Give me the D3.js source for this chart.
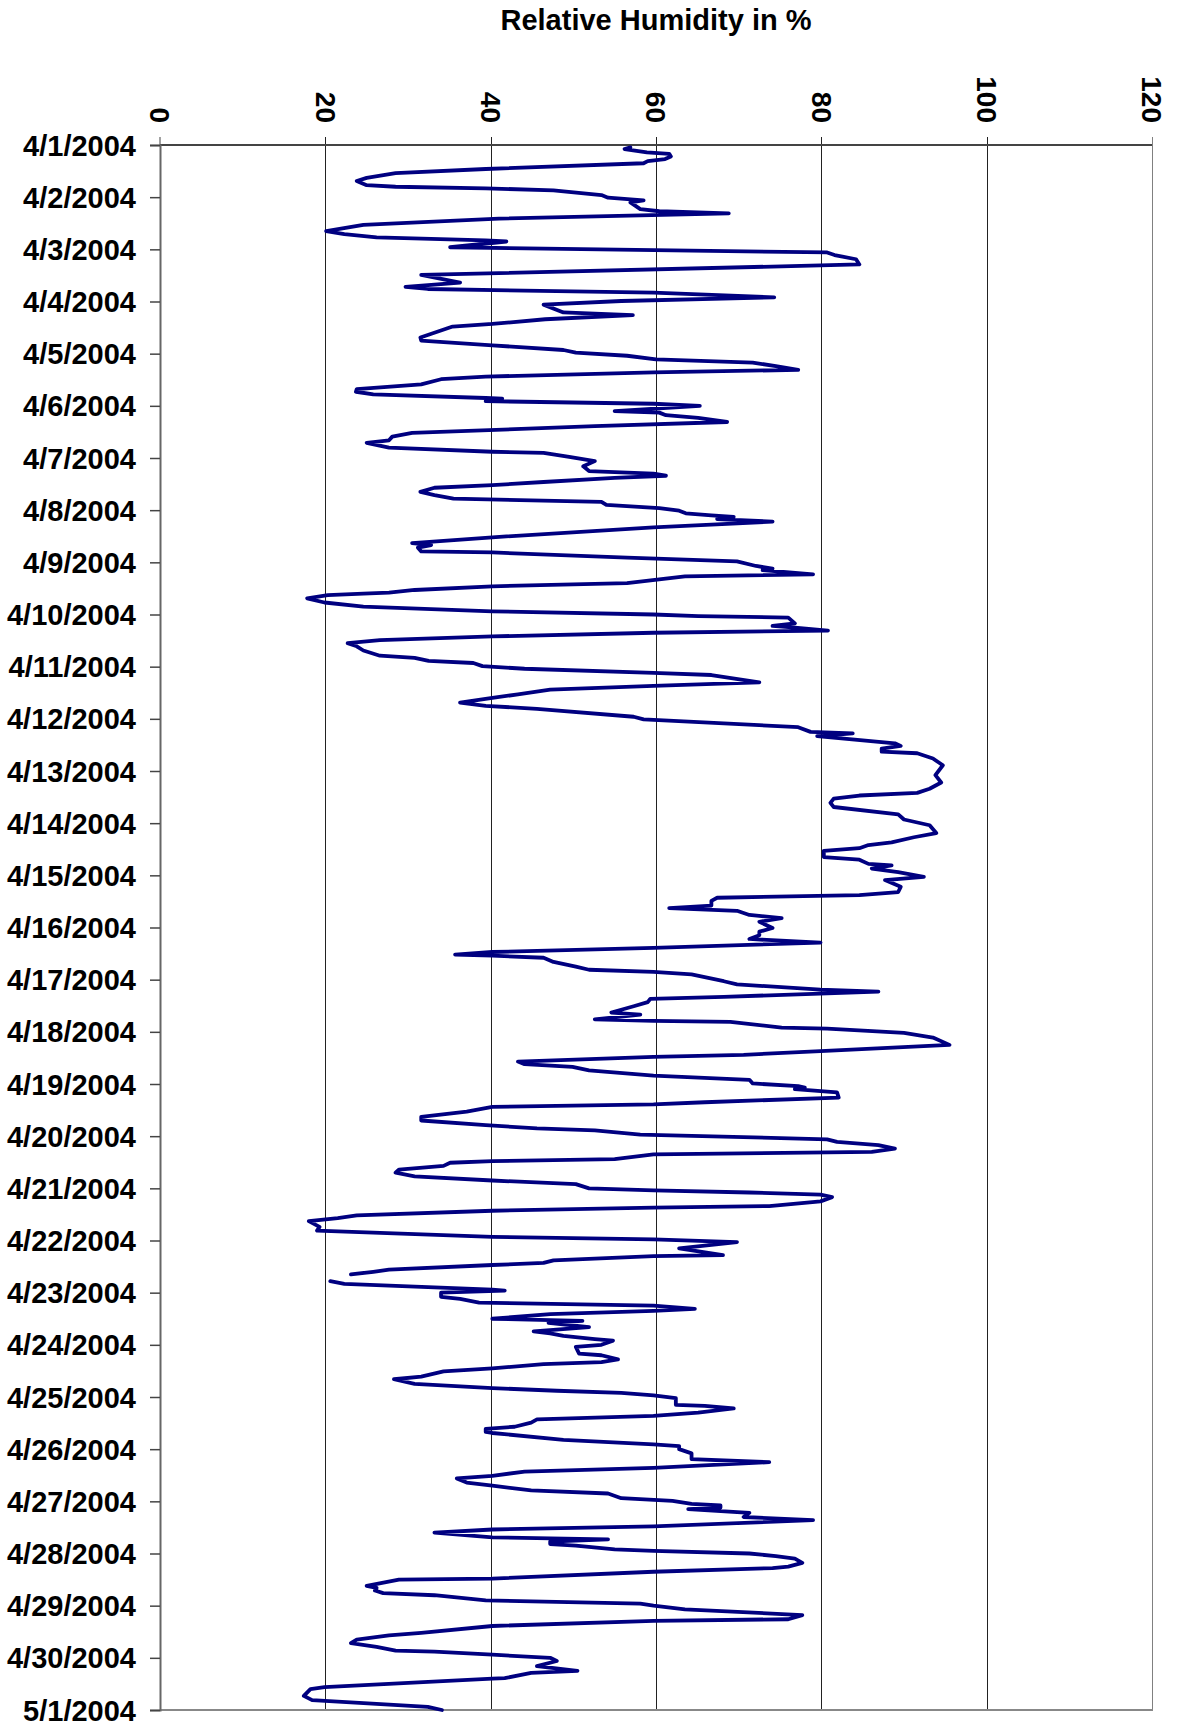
<!DOCTYPE html>
<html>
<head>
<meta charset="utf-8">
<script src="https://cdn.jsdelivr.net/npm/d3@7"></script>
<style>
  html, body { margin: 0; padding: 0; background: #fff; }
  svg { display: block; font-family: "Liberation Sans", Arial, sans-serif; }
</style>
</head>
<body>
<svg id="chart" width="1181" height="1726"></svg>
<script>
// ---- data (days after 4/1/2004 00:00, relative humidity %) ----
const dayOffset = [
  0.045,0.077,0.14,0.17,0.22,0.27,0.31,0.35,0.46,0.54,0.63,0.69,0.77,0.80,0.83,0.87,0.96,1.01,1.06,1.10,
  1.23,1.27,1.31,1.41,1.53,1.65,1.71,1.77,1.83,1.85,1.96,2.06,2.11,2.19,2.29,2.49,2.64,2.72,2.76,2.83,
  2.92,2.99,3.06,3.21,3.26,3.34,3.43,3.48,3.69,3.75,3.84,3.93,3.98,4.04,4.11,4.17,4.24,4.31,4.36,4.44,
  4.49,4.59,4.68,4.73,4.78,4.85,4.86,4.91,4.96,5.00,5.10,5.13,5.18,5.23,5.31,5.39,5.52,5.59,5.66,5.71,
  5.80,5.88,5.90,5.98,6.06,6.16,6.25,6.30,6.34,6.38,6.46,6.52,6.57,6.65,6.71,6.78,6.84,6.90,6.96,7.01,
  7.06,7.10,7.13,7.17,7.22,7.33,7.52,7.63,7.67,7.72,7.79,7.81,7.91,7.98,8.07,8.12,8.15,8.23,8.27,8.40,
  8.46,8.53,8.58,8.60,8.63,8.69,8.77,8.85,8.94,9.00,9.03,9.06,9.17,9.22,9.25,9.31,9.35,9.42,9.49,9.55,
  9.61,9.69,9.79,9.83,9.89,9.93,9.99,10.04,10.12,10.16,10.30,10.37,10.44,10.53,10.60,10.69,10.75,10.81,10.96,11.01,
  11.16,11.25,11.28,11.33,11.47,11.52,11.57,11.63,11.66,11.76,11.89,12.08,12.22,12.34,12.42,12.47,12.53,12.61,12.69,12.83,
  12.93,13.04,13.19,13.27,13.37,13.42,13.48,13.53,13.65,13.70,13.78,13.81,13.87,13.94,14.03,14.09,14.22,14.32,14.38,14.43,
  14.49,14.58,14.63,14.68,14.76,14.82,14.89,15.01,15.08,15.15,15.22,15.29,15.39,15.47,15.52,15.54,15.58,15.66,15.75,15.81,
  15.85,15.90,16.03,16.09,16.19,16.23,16.33,16.37,16.43,16.51,16.63,16.67,16.76,16.79,16.81,16.92,16.94,17.02,17.11,17.25,
  17.37,17.44,17.48,17.57,17.62,17.67,17.74,17.84,17.92,17.99,18.04,18.07,18.10,18.16,18.26,18.35,18.39,18.44,18.53,18.63,
  18.70,18.79,18.85,18.89,18.97,19.06,19.11,19.17,19.24,19.30,19.35,19.44,19.48,19.51,19.57,19.64,19.70,19.77,19.85,19.92,
  20.00,20.04,20.08,20.12,20.17,20.25,20.34,20.37,20.43,20.52,20.57,20.63,20.74,20.81,20.93,20.98,21.03,21.15,21.28,21.30,
  21.38,21.43,21.47,21.56,21.60,21.65,21.72,21.78,21.83,21.94,21.96,22.00,22.08,22.12,22.19,22.25,22.31,22.35,22.41,22.50,
  22.54,22.58,22.66,22.74,22.78,22.83,22.89,22.92,23.00,23.04,23.17,23.20,23.28,23.33,23.37,23.45,23.51,23.61,23.66,23.75,
  23.83,23.88,23.92,23.97,24.02,24.15,24.17,24.22,24.30,24.36,24.43,24.49,24.57,24.61,24.67,24.69,24.82,24.91,24.94,25.00,
  25.08,25.19,25.25,25.36,25.43,25.51,25.56,25.64,25.70,25.79,25.85,25.94,25.99,26.05,26.08,26.12,26.15,26.22,26.30,26.36,
  26.48,26.54,26.60,26.69,26.73,26.77,26.82,26.85,26.92,26.95,27.00,27.05,27.10,27.18,27.25,27.28,27.35,27.48,27.50,27.62,
  27.66,27.71,27.76,27.80,27.90,27.96,28.00,28.07,28.18,28.26,28.29,28.39,28.52,28.57,28.65,28.72,28.79,28.86,28.88,28.94,
  29.00,29.06,29.16,29.25,29.29,29.39,29.40,29.56,29.60,29.73,29.81,29.94,30.00
];
const humidity = [
  56.9,56.2,58.9,61.6,61.8,61.1,59.0,58.5,39.4,28.5,25.0,23.8,25.0,28.5,39.4,47.6,53.4,54.2,58.5,56.9,
  58.1,60.4,68.8,41.0,24.6,20.1,22.3,26.2,39.4,41.9,35.1,80.7,81.6,84.2,84.6,31.6,36.3,29.7,32.4,59.7,
  74.3,55.8,46.4,48.8,57.2,46.6,40.2,35.4,31.5,31.6,40.2,48.8,50.3,56.5,60.0,71.7,74.5,77.2,59.7,39.4,
  34.0,31.6,23.8,23.7,25.8,39.4,41.4,39.4,59.7,65.3,55.0,60.4,61.2,65.1,68.6,52.6,30.5,28.1,27.7,25.0,
  27.7,40.2,46.4,49.5,52.6,51.2,51.9,59.7,61.2,55.0,46.4,40.2,33.2,31.5,33.2,35.5,53.4,54.0,60.4,62.8,
  63.6,66.7,69.4,67.4,74.1,59.7,40.2,30.5,32.8,31.2,31.6,40.2,56.5,69.8,72.1,74.1,72.9,79.0,63.5,56.5,
  40.2,30.8,27.7,24.6,20.3,17.8,19.9,24.6,40.2,59.7,65.1,76.0,76.8,74.1,76.8,80.8,59.7,40.2,26.6,22.7,
  23.8,24.6,26.6,30.8,32.5,37.9,39.0,44.1,59.7,66.7,72.5,59.7,47.2,43.3,40.2,36.3,39.4,45.6,57.3,58.5,
  77.2,78.7,83.8,79.5,88.9,89.6,87.3,87.3,91.6,93.5,94.7,93.8,94.5,93.1,91.6,84.6,81.5,81.1,81.5,89.3,
  90.0,93.1,93.9,91.2,88.5,85.7,84.6,80.3,80.3,84.6,85.7,88.5,86.1,89.3,92.4,87.7,89.6,89.3,84.6,67.4,
  66.7,66.7,61.6,69.8,71.3,75.2,72.5,74.1,72.5,72.5,71.3,79.9,59.7,40.2,35.7,40.2,46.4,47.6,50.3,51.9,
  59.7,64.3,68.2,69.8,79.9,86.9,68.2,59.3,59.0,57.3,54.6,58.1,52.6,59.7,69.0,75.2,80.7,90.0,93.5,95.5,
  79.9,70.6,59.7,43.3,44.1,49.9,51.9,59.7,71.3,71.7,77.2,78.0,76.8,81.9,82.1,65.9,59.7,40.2,37.1,31.6,
  31.6,39.4,45.6,52.6,58.1,80.7,81.9,86.9,88.9,86.1,59.7,55.0,40.2,35.1,34.3,28.9,28.5,30.8,40.2,50.3,
  51.9,59.7,71.3,79.9,81.3,79.9,73.7,59.7,40.2,23.8,21.5,18.0,19.3,19.0,40.2,59.7,69.8,62.8,68.1,59.7,
  47.6,46.4,40.2,27.7,25.8,23.1,null,20.6,22.3,40.2,41.7,34.0,34.0,36.3,38.6,59.7,64.7,59.7,47.2,40.2,
  51.1,47.0,51.9,45.2,47.2,48.8,52.6,54.8,53.4,50.3,50.7,53.4,55.4,53.4,46.4,40.2,34.3,31.6,28.3,30.8,
  40.2,48.0,55.8,59.7,62.4,62.4,65.9,69.4,65.1,59.7,45.6,44.9,42.9,39.4,39.4,40.2,48.8,59.7,62.8,62.8,
  64.3,64.3,73.7,59.7,44.1,40.2,35.9,37.1,40.2,44.9,54.2,55.8,62.0,64.3,67.8,67.8,63.9,71.3,70.6,79.0,
  59.7,40.2,33.2,40.2,54.2,47.2,47.2,50.3,55.0,59.7,71.3,74.5,76.8,77.7,76.0,74.1,59.7,40.2,28.9,25.0,
  26.2,26.0,27.0,33.2,39.4,58.1,59.7,63.5,77.7,76.0,59.7,40.2,31.6,27.7,23.8,23.1,26.2,28.5,33.2,40.2,
  47.2,48.0,45.6,50.5,44.9,41.7,40.2,19.9,18.2,17.4,18.4,32.4,34.1
];
const valueTicks = [0, 20, 40, 60, 80, 100, 120];
const dateTicks = d3.range(0, 31).map(i => new Date(Date.UTC(2004, 3, 1 + i)));
const chartTitle = "Relative Humidity in %";

// ---- layout ----
const plotL = 160, plotR = 1152, plotT = 145, plotB = 1710;
const startMs = Date.UTC(2004, 3, 1);
const svg = d3.select("#chart");

const x = d3.scaleLinear().domain([0, 120]).range([plotL, plotR]);
const y = d3.scaleUtc().domain([new Date(startMs), new Date(Date.UTC(2004, 4, 1))]).range([plotT, plotB]);

const series = dayOffset.map((t, i) => ({ date: new Date(startMs + t * 86400000), v: humidity[i] }));

// vertical gridlines
svg.append("g").selectAll("line").data(valueTicks.slice(1)).join("line")
  .attr("x1", d => Math.round(x(d)) + 0.5).attr("x2", d => Math.round(x(d)) + 0.5)
  .attr("y1", plotT - 8).attr("y2", plotB)
  .attr("stroke", d => d === 120 ? "#808080" : "#222").attr("stroke-width", 1);
svg.append("line").attr("x1", x(0)).attr("x2", x(0)).attr("y1", plotT - 8).attr("y2", plotT)
  .attr("stroke", "#444").attr("stroke-width", 1);

// top axis line
svg.append("line").attr("x1", plotL).attr("x2", plotR).attr("y1", plotT).attr("y2", plotT)
  .attr("stroke", "#444").attr("stroke-width", 2);
// bottom border
svg.append("line").attr("x1", plotL).attr("x2", plotR + 1).attr("y1", plotB).attr("y2", plotB)
  .attr("stroke", "#888").attr("stroke-width", 2);

// left date axis
const yAxis = d3.axisLeft(y).tickValues(dateTicks).tickFormat(d3.utcFormat("%-m/%-d/%Y"))
  .tickSize(10).tickPadding(14);
const gy = svg.append("g").attr("transform", `translate(${plotL},0)`).call(yAxis);
gy.select(".domain").attr("stroke", "#666").attr("stroke-width", 2);
gy.selectAll(".tick line").attr("stroke", "#444").attr("stroke-width", 1.5);
gy.selectAll(".tick text")
  .attr("fill", "#000").attr("font-size", 29).attr("font-weight", "bold")
  .attr("font-family", "'Liberation Sans', Arial, sans-serif").attr("dy", "0.35em");

// value labels (rotated)
svg.append("g").selectAll("text").data(valueTicks).join("text")
  .attr("transform", d => `translate(${x(d)},123) rotate(90)`)
  .attr("text-anchor", "end").attr("dy", "0.35em")
  .attr("font-size", 28).attr("font-weight", "bold").attr("fill", "#000")
  .text(d => d);

// title
svg.append("text").attr("x", (plotL + plotR) / 2).attr("y", 30)
  .attr("text-anchor", "middle").attr("font-size", 29).attr("font-weight", "bold")
  .text(chartTitle);

// the humidity line
const lineGen = d3.line().defined(d => d.v != null).x(d => x(d.v)).y(d => y(d.date));
svg.append("path").datum(series).attr("d", lineGen)
  .attr("fill", "none").attr("stroke", "#000080").attr("stroke-width", 3.8)
  .attr("stroke-linejoin", "round").attr("stroke-linecap", "round");
</script>
</body>
</html>
